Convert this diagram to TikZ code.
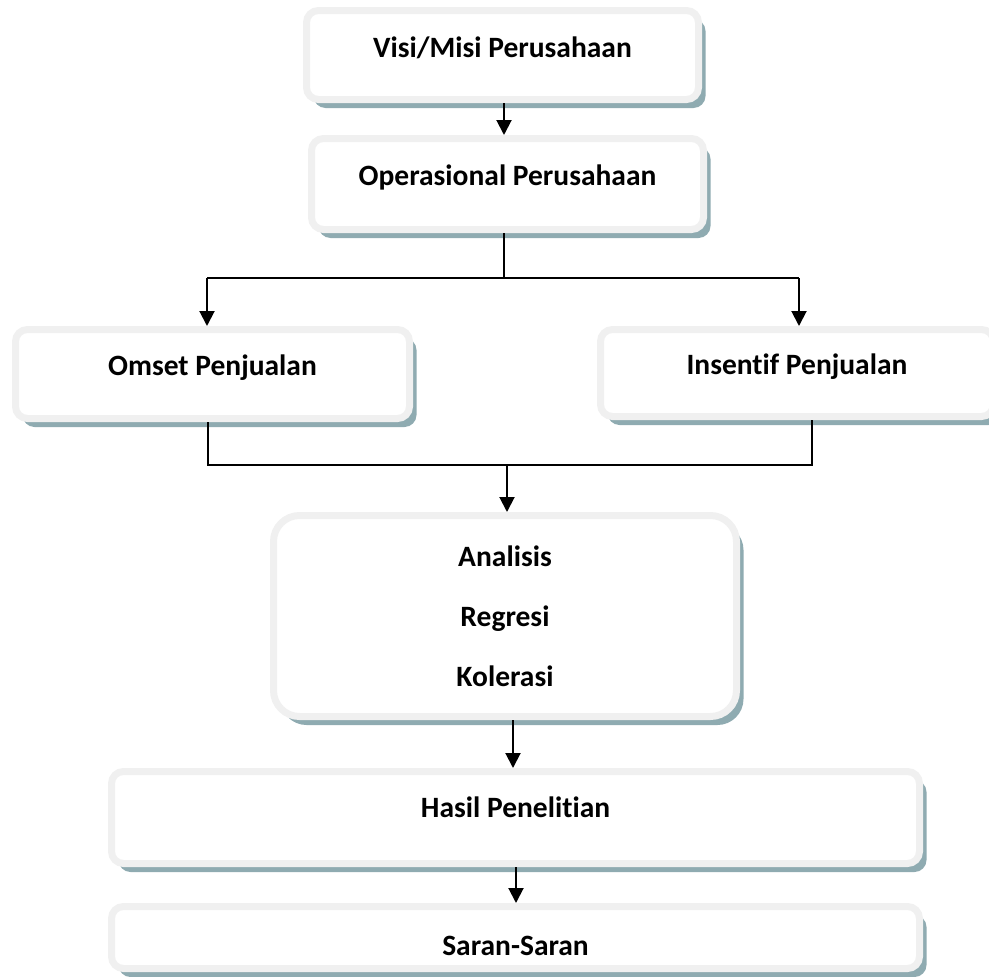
\documentclass[tikz,border=0pt]{standalone}
\usepackage{fontspec}
\setmainfont{Carlito}[Ligatures=NoCommon]
\usetikzlibrary{arrows.meta,shadows}
\newcommand{\BW}{392}
\newcommand{\BH}{89}
\definecolor{fwrim}{RGB}{240,240,240}
\definecolor{fwshade}{RGB}{143,171,177}

\begin{document}
\begin{tikzpicture}[
    x=1pt, y=-1pt,
    >={Triangle[length=15pt,width=15pt]},
    box/.style={rectangle, draw=fwrim, fill=white, line width=7pt,
      rounded corners=12pt, minimum width=\BW pt, minimum height=\BH pt,
      inner sep=0pt, text height=18pt, text depth=16pt,
      font=\fontsize{29.5}{35}\selectfont\bfseries,
      drop shadow={shadow xshift=7pt, shadow yshift=-8.5pt, fill=fwshade, opacity=1}},
    conn/.style={draw=black, line width=2pt},
    arr/.style={conn, ->},
  ]
  \useasboundingbox (0,0) rectangle (989,977);

  %% boxes, top to bottom
  \node[box, text depth=14pt] (visi) at (502.5,55) {Visi/Misi Perusahaan};
  \node[box, minimum height=91pt] (oper) at (507.5,184) {Operasional Perusahaan};
  \node[box, minimum width=394pt] (omset) at (212.5,374) {Omset Penjualan};
  \node[box, minimum width=393pt, minimum height=87pt] (insentif) at (797,373) {Insentif Penjualan};
  \node[box, rounded corners=26pt, minimum width=463pt, minimum height=201pt,
        align=center, text height=140pt, text depth=0pt,
        execute at begin node={\setlength{\baselineskip}{60pt}}] (anal) at (505,616)
        {Analisis\\Regresi\\Kolerasi};
  \node[box, minimum width=808pt, minimum height=92pt, text depth=19pt] (hasil) at (515.5,817.5) {Hasil Penelitian};
  \node[box, minimum width=808pt, minimum height=62pt, text height=35pt, text depth=0pt] (saran) at (515.5,937.5) {Saran-Saran};

  %% branch below the operations box
  \coordinate (opM) at (504,278);
  \coordinate (opL) at (207,278);
  \coordinate (opR) at (799,278);
  \draw[conn] (opM |- oper.south) -- (opM);
  \draw[conn] (opL) -- (opR);
  \draw[arr] (opL) -- (opL |- omset.north);
  \draw[arr] (opR) -- (opR |- insentif.north);

  %% the two sales boxes join again
  \coordinate (jnL) at (208,465);
  \coordinate (jnR) at (812,465);
  \coordinate (jnM) at (507,465);
  \draw[conn] (jnL |- omset.south) -- (jnL) -- (jnR) -- (jnR |- insentif.south);
  \draw[arr] (jnM) -- (jnM |- anal.north);

  %% straight chain
  \coordinate (viOut) at (504,102);
  \draw[arr] (viOut |- visi.south) -- (viOut |- oper.north);
  \coordinate (anOut) at (513,720);
  \draw[arr] (anOut |- anal.south) -- (anOut |- hasil.north);
  \coordinate (haOut) at (516,867);
  \draw[arr] (haOut |- hasil.south) -- (haOut |- saran.north);

\end{tikzpicture}
\end{document}
